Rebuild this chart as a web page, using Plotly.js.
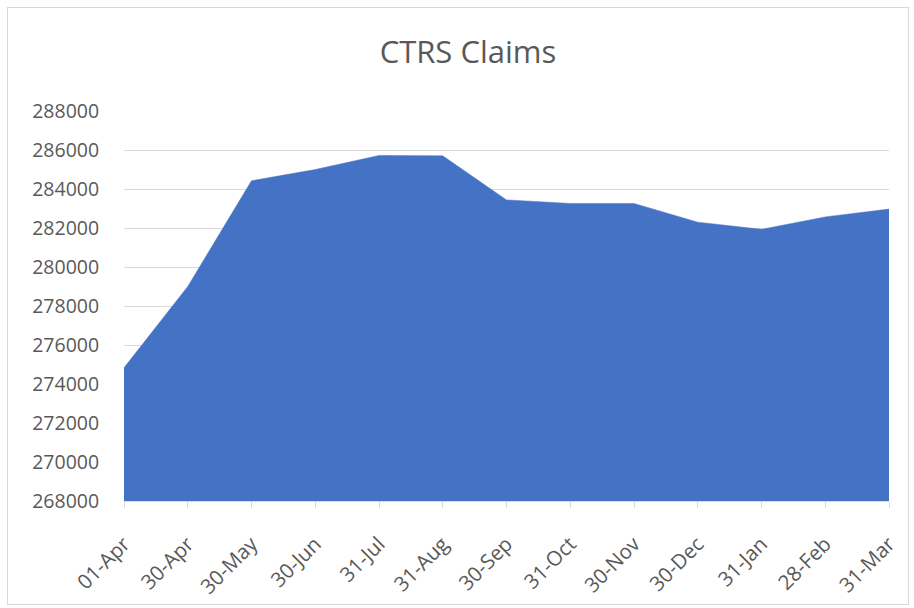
<!DOCTYPE html>
<html>
<head>
<meta charset="utf-8">
<script src="https://cdn.plot.ly/plotly-3.0.1.min.js"></script>
<style>
  html, body { margin: 0; padding: 0; background: #fff; }
  #chart { width: 914px; height: 608px; }
  #frame { position: absolute; left: 7px; top: 7px; width: 902px; height: 598px; border: 1px solid #d9d9d9; pointer-events: none; box-sizing: border-box; }
</style>
</head>
<body>
<div id="chart"></div>
<div id="frame"></div>
<script>
const categories = ["01-Apr","30-Apr","30-May","30-Jun","31-Jul","31-Aug","30-Sep","31-Oct","30-Nov","30-Dec","31-Jan","28-Feb","31-Mar"];
const claims = [274830, 279000, 284420, 285000, 285720, 285700, 283440, 283260, 283260, 282300, 281930, 282570, 282970];
const yTicks = [268000, 270000, 272000, 274000, 276000, 278000, 280000, 282000, 284000, 286000, 288000];
const chartTitle = "CTRS Claims";

const trace = {
  x: categories.map((c, i) => i),
  y: claims,
  type: 'scatter',
  mode: 'lines',
  fill: 'tozeroy',
  fillcolor: '#4472C4',
  line: { color: '#4472C4', width: 0.5 },
  hoverinfo: 'x+y'
};

const layout = {
  width: 914,
  height: 608,
  margin: { l: 124, r: 25, t: 111, b: 107 },
  paper_bgcolor: '#ffffff',
  plot_bgcolor: '#ffffff',
  showlegend: false,
  font: { family: 'Open Sans, sans-serif', color: '#595959' },
  title: {
    text: chartTitle,
    x: 0.512,
    xanchor: 'center',
    y: 0.915,
    yanchor: 'middle',
    font: { size: 31, color: '#595959', family: 'Open Sans, sans-serif' }
  },
  xaxis: {
    type: 'linear',
    range: [0, categories.length - 1],
    tickmode: 'array',
    tickvals: categories.map((c, i) => i),
    ticktext: categories,
    tickangle: -45,
    ticks: 'outside',
    ticklen: 6,
    tickcolor: '#d9d9d9',
    ticklabelstandoff: 16,
    showline: true,
    linecolor: '#d9d9d9',
    linewidth: 1,
    showgrid: false,
    zeroline: false,
    tickfont: { size: 20.5, color: '#595959' }
  },
  yaxis: {
    range: [268000, 288000],
    tickmode: 'array',
    tickvals: yTicks,
    ticktext: yTicks.map(v => String(v)),
    showgrid: true,
    gridcolor: '#d9d9d9',
    gridwidth: 1,
    zeroline: false,
    showline: false,
    ticks: 'outside',
    ticklen: 20,
    tickcolor: 'rgba(0,0,0,0)',
    tickfont: { size: 19.5, color: '#595959' }
  }
};

Plotly.newPlot('chart', [trace], layout, { displayModeBar: false, staticPlot: true });
</script>
</body>
</html>
